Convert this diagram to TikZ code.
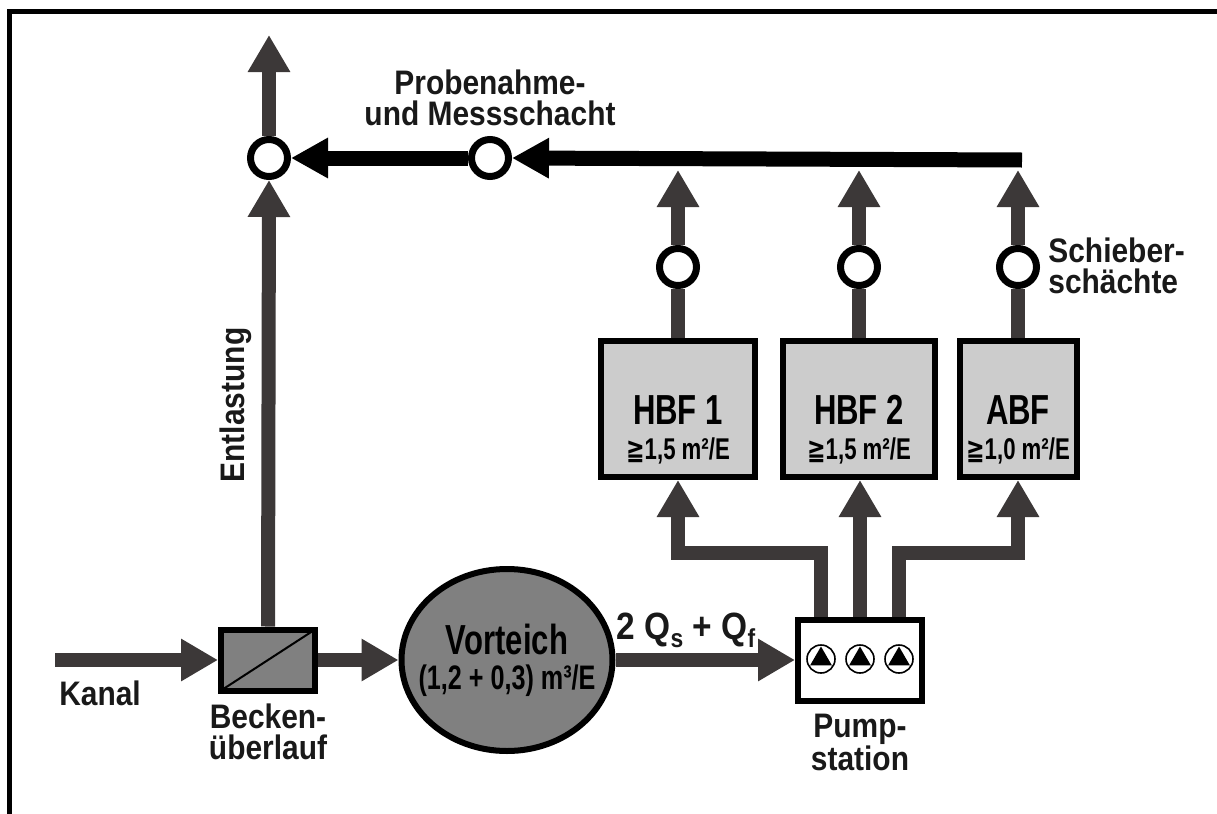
\documentclass[tikz,border=0pt]{standalone}
\usepackage{fontspec}
\setmainfont{Liberation Sans}[FakeStretch=0.88]
\newfontfamily\narrowfont{Liberation Sans}[FakeStretch=0.74]
\newfontfamily\geqfont{DejaVu Sans}[FakeStretch=0.74]
\usepackage{tikz}
\usetikzlibrary{shapes,arrows.meta,positioning}
\definecolor{pipegray}{RGB}{60,56,56}
\definecolor{basin}{RGB}{204,204,204}
\definecolor{pond}{RGB}{128,128,128}
\newcommand{\areafont}{\narrowfont\fontsize{15}{17.5}\selectfont}
\newcommand{\lowidx}[1]{\raisebox{-4pt}{\fontsize{13}{13}\selectfont #1}}

\begin{document}
\begin{tikzpicture}[x=0.5pt, y=-0.5pt, font=\bfseries\fontsize{17}{15.5}\selectfont]
    \tikzstyle{pipe}=[line width=7pt, draw=pipegray, -{Triangle[length=18.5pt, width=20pt]}]
    \tikzstyle{mainline}=[line width=7.5pt, draw=black, -{Triangle[length=18.5pt, width=19pt]}]
    \tikzstyle{valve}=[circle, draw=black, line width=3.5pt, fill=white,
      minimum size=18.5pt, inner sep=0pt]
    \tikzstyle{basinbox}=[draw=black, line width=3pt, fill=basin,
      minimum height=68pt, inner sep=0pt]
    \tikzstyle{boxtext}=[align=center, font=\bfseries\narrowfont\fontsize{21}{17.5}\selectfont]
    \tikzstyle{lbl}=[inner sep=1pt, text=black!90]

    \useasboundingbox (0,0) rectangle (1217,814);
    \draw[line width=2.5pt] (9,814) -- (9,11) -- (1217,11);

    % inflow, overflow basin, pond and pumps
    \coordinate (KA) at (55,660);
    \node[draw=black, line width=3pt, fill=pond, minimum width=47pt,
      minimum height=30.5pt,
      path picture={\draw[line width=1pt] (path picture bounding box.south west)
        -- (path picture bounding box.north east);}] (BU) at (268,660) {};
    \node[ellipse, draw=black, line width=3pt, fill=pond, minimum width=105.5pt,
      minimum height=91pt, inner sep=0pt] (V) at (507,660) {};
    \node[boxtext] (Vt) at (V.center)
      {Vorteich\\\narrowfont\fontsize{17}{17.5}\selectfont(1,2 + 0,3) m³/E};
    \node[draw=black, line width=3pt, fill=white, minimum width=62pt,
      minimum height=40.5pt] (PS) at (860,660) {};
    \foreach \px in {821,860,899} {
      \draw[line width=0.8pt, fill=white] (\px,659) circle (14);
      \fill (\px,659) +(270:12.5) -- +(30:12.5) -- +(150:12.5) -- cycle;
    }

    % soil filters and valve shafts
    \node[basinbox, minimum width=77pt] (HBF1) at (678,409) {};
    \node[basinbox, minimum width=76pt] (HBF2) at (859,409) {};
    \node[basinbox, minimum width=58.5pt] (ABF) at (1018,409) {};
    \node[boxtext] (HBF1t) at ([yshift=-10.5pt]HBF1.center)
      {HBF 1\\\areafont{\geqfont ≧}1,5 m²/E};
    \node[boxtext] (HBF2t) at ([yshift=-10.5pt]HBF2.center)
      {HBF 2\\\areafont{\geqfont ≧}1,5 m²/E};
    \node[boxtext] (ABFt) at ([yshift=-10.5pt]ABF.center)
      {ABF\\\areafont{\geqfont ≧}1,0 m²/E};
    \node[valve] (S1) at (678,267) {};
    \node[valve] (S2) at (859,267) {};
    \node[valve] (S3) at (1018,267) {};

    % collector and outlet
    \coordinate (TR) at (1022,160);
    \coordinate (ET) at (269,35);
    \node[valve] (J) at (269,158) {};
    \node[valve] (PM) at (490,158) {};

    % labels
    \node[lbl] (kanal) at (100,693) {Kanal};
    \node[lbl, align=center, below=4pt of BU] (bul) {Becken-\\überlauf};
    \node[lbl, align=center, below=4pt of PS] (psl) {Pump-\\station};
    \node[lbl, font=\bfseries\fontsize{19}{19}\selectfont] (qlbl) at (686,630)
      {2 Q\lowidx{s} + Q\lowidx{f}};
    \node[lbl, rotate=90] (entl) at (236,405) {Entlastung};
    \node[lbl, align=center] (pml) at (490,98) {Probenahme-\\und Messschacht};
    \node[lbl, align=left, anchor=west] (sbl) at (1046,266) {Schieber-\\schächte};

    % flows
    \draw[pipe] (KA) -- (KA -| BU.west);
    \draw[pipe] (BU.east) -- (V.west);
    \draw[pipe] (V.east) -- (PS.west);
    \draw[pipe] (BU.north) -- (J.south);
    \draw[pipe] (J.north) -- (ET);
    \draw[pipe] ([xshift=-19.5pt]PS.north) -- ++(0,-64) -| (HBF1.south);
    \draw[pipe] (PS.north) -- (PS.north |- HBF2.south);
    \draw[pipe] ([xshift=19.5pt]PS.north) -- ++(0,-64) -| (ABF.south);
    \foreach \s/\b in {S1/HBF1, S2/HBF2, S3/ABF} {
      \draw[pipe, -] (\b.north) -- (\s.south);
      \draw[pipe, shorten >=5pt] (\s.north) -- (\s.north |- TR);
    }
    \draw[mainline] (TR) -- (PM.east);
    \draw[mainline] (PM.west) -- (J.east);
\end{tikzpicture}
\end{document}
